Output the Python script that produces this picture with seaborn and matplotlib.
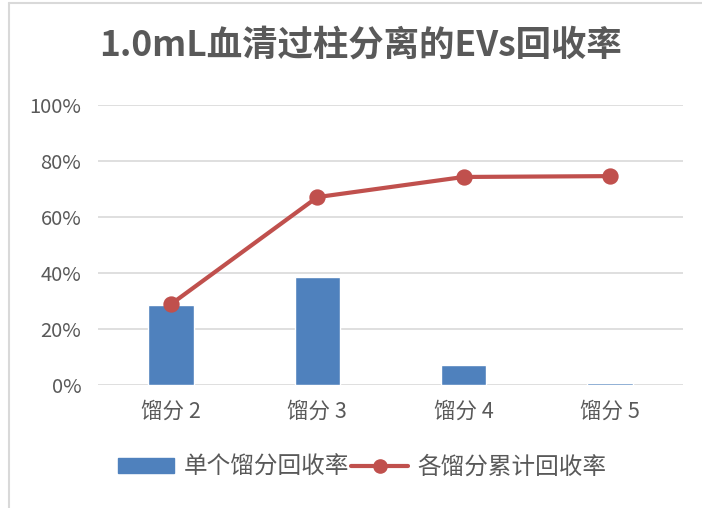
import matplotlib
matplotlib.use('Agg')
import pandas as pd
import seaborn as sns
import matplotlib.pyplot as plt
from matplotlib.lines import Line2D
from matplotlib.patches import Patch
from matplotlib.ticker import PercentFormatter

# data
fractions = ['馏分 2', '馏分 3', '馏分 4', '馏分 5']
single_rate = [0.286, 0.386, 0.071, 0.007]
cumulative_rate = [0.289, 0.671, 0.743, 0.746]
yticks = [0, 0.2, 0.4, 0.6, 0.8, 1.0]

df = pd.DataFrame({'fraction': fractions, 'single': single_rate, 'cum': cumulative_rate})

sns.set_theme(style='white')
plt.rcParams['font.family'] = ['Noto Sans CJK SC', 'DejaVu Sans']

grey = '#595959'
blue = '#4F81BD'
red = '#C0504D'

fig = plt.figure(figsize=(7.02, 5.08), dpi=100)
ax = fig.add_axes([98 / 702, 1 - 385 / 508, 585 / 702, 280 / 508])

sns.barplot(data=df, x='fraction', y='single', color=blue, width=0.31,
            saturation=1, ax=ax, zorder=2)
sns.pointplot(data=df, x='fraction', y='cum', color=red, markers='o',
              markersize=9.5, linewidth=3.0, ax=ax, zorder=3)

ax.set_ylim(0, 1)
ax.set_yticks(yticks)
ax.yaxis.set_major_formatter(PercentFormatter(1.0, decimals=0))
ax.set_xlabel('')
ax.set_ylabel('')
ax.grid(axis='y', color='#D9D9D9', linewidth=1.2, zorder=0)
ax.set_axisbelow(True)
for s in ax.spines.values():
    s.set_visible(False)
ax.tick_params(axis='y', length=0, pad=12, labelsize=14.5, labelcolor=grey)
ax.tick_params(axis='x', length=0, pad=11, labelsize=15.5, labelcolor=grey)

fig.text(361 / 702, 1 - 45 / 508, '1.0mL血清过柱分离的EVs回收率', ha='center', va='center',
         fontsize=25.5, fontweight='bold', color=grey)

handles = [Patch(facecolor=blue, edgecolor=blue),
           Line2D([0], [0], color=red, linewidth=3.0, marker='o', markersize=9.5)]
fig.legend(handles, ['单个馏分回收率', '各馏分累计回收率'], loc='center',
           bbox_to_anchor=(362 / 702, 1 - 467 / 508), ncol=2, frameon=False,
           fontsize=17, labelcolor=grey, handlelength=2.4, handleheight=0.6,
           handletextpad=0.4, columnspacing=0.1)

# light frame at top and left edge of the picture
fig.add_artist(Line2D([8.5 / 702, 8.5 / 702], [0, 1 - 2.5 / 508], color='#D9D9D9', lw=1.5))
fig.add_artist(Line2D([8.5 / 702, 1], [1 - 2.5 / 508, 1 - 2.5 / 508], color='#D9D9D9', lw=1.5))

fig.savefig('out.png', dpi=100)
